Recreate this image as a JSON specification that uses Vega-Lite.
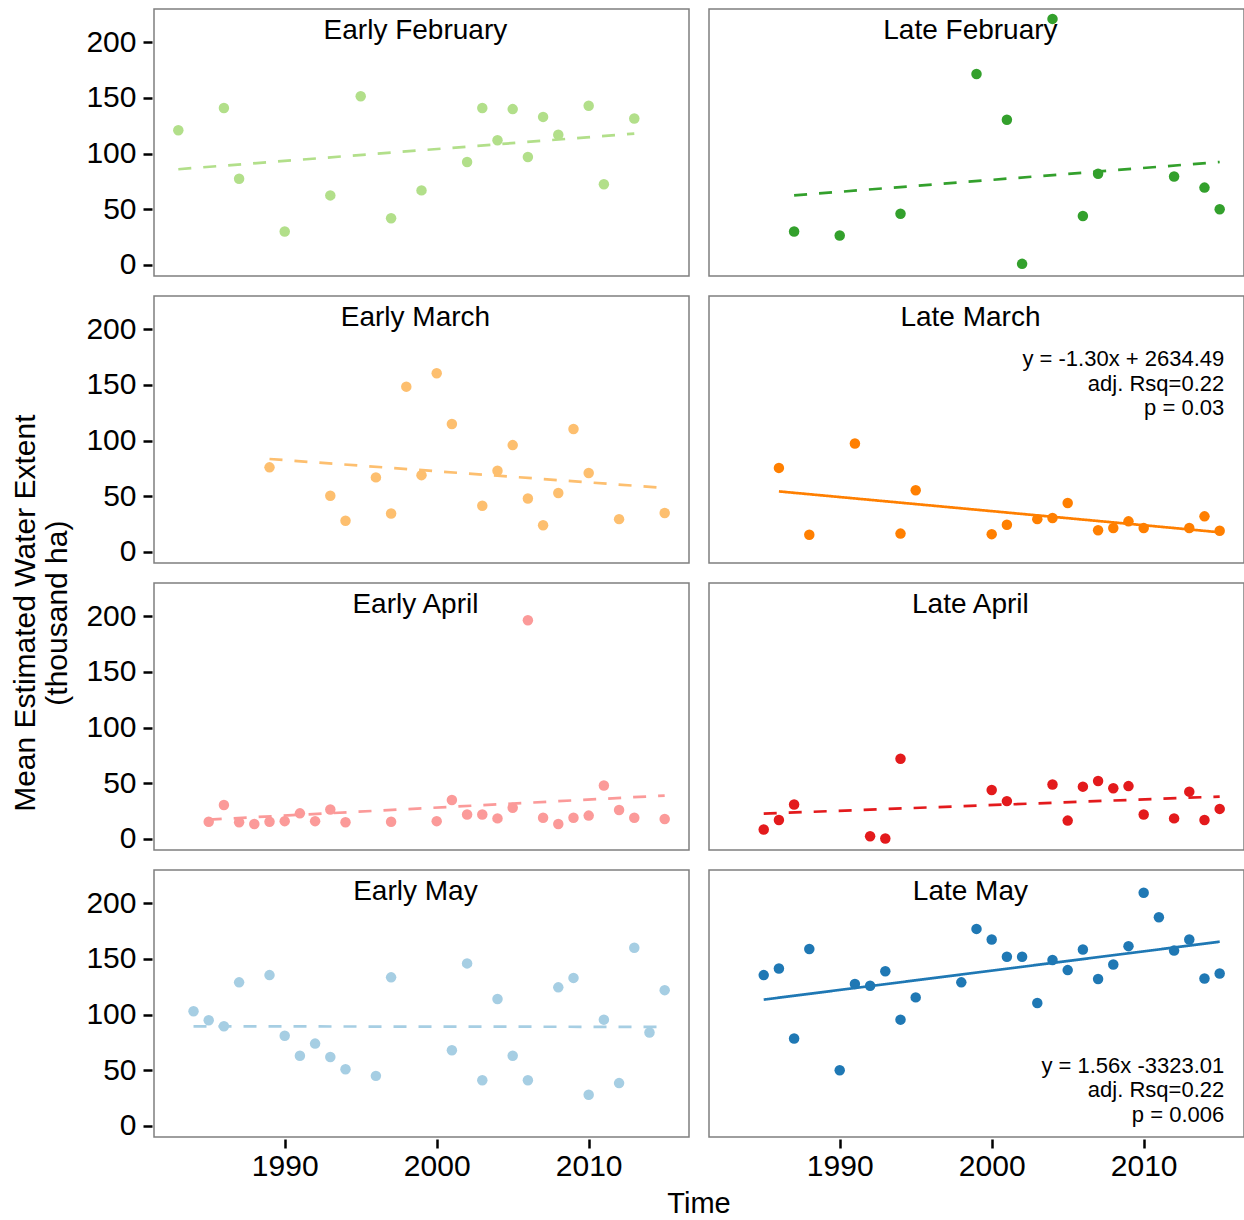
{
 "$schema": "https://vega.github.io/schema/vega-lite/v6.json",
 "padding": {"left": 10, "top": 7, "right": 0, "bottom": 2},
 "title": {"text": "Mean Estimated Water Extent", "subtitle": "(thousand ha)", "orient": "left", "anchor": "middle", "fontSize": 30, "subtitleFontSize": 30, "font": "Liberation Sans", "subtitleFont": "Liberation Sans", "fontWeight": "normal", "color": "black", "subtitleColor": "black", "offset": 13, "subtitlePadding": 2},
 "data": {"values": [
  {"panel":"Early February","kind":"pt","year":1983,"value":121},{"panel":"Early February","kind":"pt","year":1986,"value":141},{"panel":"Early February","kind":"pt","year":1987,"value":77.5},{"panel":"Early February","kind":"pt","year":1990,"value":30},{"panel":"Early February","kind":"pt","year":1993,"value":62.5},{"panel":"Early February","kind":"pt","year":1995,"value":151.5},{"panel":"Early February","kind":"pt","year":1997,"value":42},{"panel":"Early February","kind":"pt","year":1999,"value":67},{"panel":"Early February","kind":"pt","year":2002,"value":92.5},{"panel":"Early February","kind":"pt","year":2003,"value":141},{"panel":"Early February","kind":"pt","year":2004,"value":112},{"panel":"Early February","kind":"pt","year":2005,"value":140},{"panel":"Early February","kind":"pt","year":2006,"value":97},{"panel":"Early February","kind":"pt","year":2007,"value":133},{"panel":"Early February","kind":"pt","year":2008,"value":117},{"panel":"Early February","kind":"pt","year":2010,"value":143},{"panel":"Early February","kind":"pt","year":2011,"value":72.5},{"panel":"Early February","kind":"pt","year":2013,"value":131.5},
  {"panel":"Early February","kind":"fit","sig":"ns","year":1983,"value":86},{"panel":"Early February","kind":"fit","sig":"ns","year":2013,"value":118},
  {"panel":"Late February","kind":"pt","year":1987,"value":30},{"panel":"Late February","kind":"pt","year":1990,"value":26.5},{"panel":"Late February","kind":"pt","year":1994,"value":46},{"panel":"Late February","kind":"pt","year":1999,"value":171.5},{"panel":"Late February","kind":"pt","year":2001,"value":130.5},{"panel":"Late February","kind":"pt","year":2002,"value":1},{"panel":"Late February","kind":"pt","year":2004,"value":221},{"panel":"Late February","kind":"pt","year":2006,"value":44},{"panel":"Late February","kind":"pt","year":2007,"value":82},{"panel":"Late February","kind":"pt","year":2012,"value":79.5},{"panel":"Late February","kind":"pt","year":2014,"value":69.5},{"panel":"Late February","kind":"pt","year":2015,"value":50},
  {"panel":"Late February","kind":"fit","sig":"ns","year":1987,"value":62.5},{"panel":"Late February","kind":"fit","sig":"ns","year":2015,"value":92.5},
  {"panel":"Early March","kind":"pt","year":1989,"value":76},{"panel":"Early March","kind":"pt","year":1993,"value":50.5},{"panel":"Early March","kind":"pt","year":1994,"value":28},{"panel":"Early March","kind":"pt","year":1996,"value":67},{"panel":"Early March","kind":"pt","year":1997,"value":34.5},{"panel":"Early March","kind":"pt","year":1998,"value":148.5},{"panel":"Early March","kind":"pt","year":1999,"value":69},{"panel":"Early March","kind":"pt","year":2000,"value":160.5},{"panel":"Early March","kind":"pt","year":2001,"value":115},{"panel":"Early March","kind":"pt","year":2003,"value":41.5},{"panel":"Early March","kind":"pt","year":2004,"value":73},{"panel":"Early March","kind":"pt","year":2005,"value":96},{"panel":"Early March","kind":"pt","year":2006,"value":48},{"panel":"Early March","kind":"pt","year":2007,"value":24},{"panel":"Early March","kind":"pt","year":2008,"value":53},{"panel":"Early March","kind":"pt","year":2009,"value":110.5},{"panel":"Early March","kind":"pt","year":2010,"value":71},{"panel":"Early March","kind":"pt","year":2012,"value":29.5},{"panel":"Early March","kind":"pt","year":2015,"value":35},
  {"panel":"Early March","kind":"fit","sig":"ns","year":1989,"value":83.5},{"panel":"Early March","kind":"fit","sig":"ns","year":2015,"value":57.5},
  {"panel":"Late March","kind":"pt","year":1986,"value":75.5},{"panel":"Late March","kind":"pt","year":1988,"value":15.5},{"panel":"Late March","kind":"pt","year":1991,"value":97.5},{"panel":"Late March","kind":"pt","year":1994,"value":16.5},{"panel":"Late March","kind":"pt","year":1995,"value":55.5},{"panel":"Late March","kind":"pt","year":2000,"value":16},{"panel":"Late March","kind":"pt","year":2001,"value":24.5},{"panel":"Late March","kind":"pt","year":2003,"value":29.5},{"panel":"Late March","kind":"pt","year":2004,"value":30.5},{"panel":"Late March","kind":"pt","year":2005,"value":44},{"panel":"Late March","kind":"pt","year":2007,"value":19.5},{"panel":"Late March","kind":"pt","year":2008,"value":21.5},{"panel":"Late March","kind":"pt","year":2009,"value":27.5},{"panel":"Late March","kind":"pt","year":2010,"value":21.5},{"panel":"Late March","kind":"pt","year":2013,"value":21.5},{"panel":"Late March","kind":"pt","year":2014,"value":32},{"panel":"Late March","kind":"pt","year":2015,"value":19},
  {"panel":"Late March","kind":"fit","sig":"sig","year":1986,"value":54.4},{"panel":"Late March","kind":"fit","sig":"sig","year":2015,"value":17.7},
  {"panel":"Late March","kind":"note","label":"y = -1.30x + 2634.49\nadj. Rsq=0.22\np = 0.03"},
  {"panel":"Early April","kind":"pt","year":1985,"value":15.5},{"panel":"Early April","kind":"pt","year":1986,"value":30.5},{"panel":"Early April","kind":"pt","year":1987,"value":15},{"panel":"Early April","kind":"pt","year":1988,"value":13.5},{"panel":"Early April","kind":"pt","year":1989,"value":15.5},{"panel":"Early April","kind":"pt","year":1990,"value":16},{"panel":"Early April","kind":"pt","year":1991,"value":23},{"panel":"Early April","kind":"pt","year":1992,"value":16},{"panel":"Early April","kind":"pt","year":1993,"value":26.5},{"panel":"Early April","kind":"pt","year":1994,"value":15},{"panel":"Early April","kind":"pt","year":1997,"value":15.5},{"panel":"Early April","kind":"pt","year":2000,"value":16},{"panel":"Early April","kind":"pt","year":2001,"value":35},{"panel":"Early April","kind":"pt","year":2002,"value":22},{"panel":"Early April","kind":"pt","year":2003,"value":22},{"panel":"Early April","kind":"pt","year":2004,"value":18.5},{"panel":"Early April","kind":"pt","year":2005,"value":28},{"panel":"Early April","kind":"pt","year":2006,"value":196.5},{"panel":"Early April","kind":"pt","year":2007,"value":19},{"panel":"Early April","kind":"pt","year":2008,"value":13.5},{"panel":"Early April","kind":"pt","year":2009,"value":19},{"panel":"Early April","kind":"pt","year":2010,"value":21},{"panel":"Early April","kind":"pt","year":2011,"value":48},{"panel":"Early April","kind":"pt","year":2012,"value":26},{"panel":"Early April","kind":"pt","year":2013,"value":19},{"panel":"Early April","kind":"pt","year":2015,"value":18},
  {"panel":"Early April","kind":"fit","sig":"ns","year":1985,"value":17.4},{"panel":"Early April","kind":"fit","sig":"ns","year":2015,"value":39},
  {"panel":"Late April","kind":"pt","year":1985,"value":8.5},{"panel":"Late April","kind":"pt","year":1986,"value":17},{"panel":"Late April","kind":"pt","year":1987,"value":31},{"panel":"Late April","kind":"pt","year":1992,"value":2.5},{"panel":"Late April","kind":"pt","year":1993,"value":0.5},{"panel":"Late April","kind":"pt","year":1994,"value":72},{"panel":"Late April","kind":"pt","year":2000,"value":44},{"panel":"Late April","kind":"pt","year":2001,"value":34},{"panel":"Late April","kind":"pt","year":2004,"value":49},{"panel":"Late April","kind":"pt","year":2005,"value":16.5},{"panel":"Late April","kind":"pt","year":2006,"value":47},{"panel":"Late April","kind":"pt","year":2007,"value":52},{"panel":"Late April","kind":"pt","year":2008,"value":45.5},{"panel":"Late April","kind":"pt","year":2009,"value":47.5},{"panel":"Late April","kind":"pt","year":2010,"value":22},{"panel":"Late April","kind":"pt","year":2012,"value":18.5},{"panel":"Late April","kind":"pt","year":2013,"value":42.5},{"panel":"Late April","kind":"pt","year":2014,"value":17},{"panel":"Late April","kind":"pt","year":2015,"value":27},
  {"panel":"Late April","kind":"fit","sig":"ns","year":1985,"value":22.8},{"panel":"Late April","kind":"fit","sig":"ns","year":2015,"value":38.1},
  {"panel":"Early May","kind":"pt","year":1984,"value":103},{"panel":"Early May","kind":"pt","year":1985,"value":95},{"panel":"Early May","kind":"pt","year":1986,"value":89.5},{"panel":"Early May","kind":"pt","year":1987,"value":129},{"panel":"Early May","kind":"pt","year":1989,"value":135.5},{"panel":"Early May","kind":"pt","year":1990,"value":81},{"panel":"Early May","kind":"pt","year":1991,"value":63},{"panel":"Early May","kind":"pt","year":1992,"value":74},{"panel":"Early May","kind":"pt","year":1993,"value":62},{"panel":"Early May","kind":"pt","year":1994,"value":51},{"panel":"Early May","kind":"pt","year":1996,"value":45},{"panel":"Early May","kind":"pt","year":1997,"value":133.5},{"panel":"Early May","kind":"pt","year":2001,"value":68},{"panel":"Early May","kind":"pt","year":2002,"value":146},{"panel":"Early May","kind":"pt","year":2003,"value":41},{"panel":"Early May","kind":"pt","year":2004,"value":114},{"panel":"Early May","kind":"pt","year":2005,"value":63},{"panel":"Early May","kind":"pt","year":2006,"value":41},{"panel":"Early May","kind":"pt","year":2008,"value":124.5},{"panel":"Early May","kind":"pt","year":2009,"value":133},{"panel":"Early May","kind":"pt","year":2010,"value":28},{"panel":"Early May","kind":"pt","year":2011,"value":95.5},{"panel":"Early May","kind":"pt","year":2012,"value":38.5},{"panel":"Early May","kind":"pt","year":2013,"value":160},{"panel":"Early May","kind":"pt","year":2014,"value":84},{"panel":"Early May","kind":"pt","year":2015,"value":122},
  {"panel":"Early May","kind":"fit","sig":"ns","year":1984,"value":89.5},{"panel":"Early May","kind":"fit","sig":"ns","year":2015,"value":89},
  {"panel":"Late May","kind":"pt","year":1985,"value":135.5},{"panel":"Late May","kind":"pt","year":1986,"value":141.5},{"panel":"Late May","kind":"pt","year":1987,"value":78.5},{"panel":"Late May","kind":"pt","year":1988,"value":159},{"panel":"Late May","kind":"pt","year":1990,"value":50},{"panel":"Late May","kind":"pt","year":1991,"value":127.5},{"panel":"Late May","kind":"pt","year":1992,"value":126},{"panel":"Late May","kind":"pt","year":1993,"value":139},{"panel":"Late May","kind":"pt","year":1994,"value":95.5},{"panel":"Late May","kind":"pt","year":1995,"value":115.5},{"panel":"Late May","kind":"pt","year":1998,"value":129},{"panel":"Late May","kind":"pt","year":1999,"value":177},{"panel":"Late May","kind":"pt","year":2000,"value":167.5},{"panel":"Late May","kind":"pt","year":2001,"value":152},{"panel":"Late May","kind":"pt","year":2002,"value":152},{"panel":"Late May","kind":"pt","year":2003,"value":110.5},{"panel":"Late May","kind":"pt","year":2004,"value":149},{"panel":"Late May","kind":"pt","year":2005,"value":140},{"panel":"Late May","kind":"pt","year":2006,"value":158.5},{"panel":"Late May","kind":"pt","year":2007,"value":132},{"panel":"Late May","kind":"pt","year":2008,"value":145},{"panel":"Late May","kind":"pt","year":2009,"value":161.5},{"panel":"Late May","kind":"pt","year":2010,"value":209.5},{"panel":"Late May","kind":"pt","year":2011,"value":187.5},{"panel":"Late May","kind":"pt","year":2012,"value":157.5},{"panel":"Late May","kind":"pt","year":2013,"value":167.5},{"panel":"Late May","kind":"pt","year":2014,"value":132.5},{"panel":"Late May","kind":"pt","year":2015,"value":137},
  {"panel":"Late May","kind":"fit","sig":"sig","year":1985,"value":113.5},{"panel":"Late May","kind":"fit","sig":"sig","year":2015,"value":165.5},
  {"panel":"Late May","kind":"note","label":"y = 1.56x -3323.01\nadj. Rsq=0.22\np = 0.006"}
 ]},
 "facet": {"field": "panel", "type": "nominal",
   "sort": ["Early February","Late February","Early March","Late March","Early April","Late April","Early May","Late May"],
   "title": "Time",
   "header": {"labels": false, "labelExpr": "''", "labelFontSize": 1, "labelPadding": 0, "titleOrient": "bottom", "titleFontSize": 29, "titleFont": "Liberation Sans", "titleColor": "black", "titleFontWeight": "normal", "titlePadding": 9}},
 "columns": 2,
 "spacing": {"row": 17, "column": 18},
 "spec": {
  "width": 535, "height": 267,
  "layer": [
   {"transform": [{"filter": "datum.kind === 'pt'"}],
    "mark": {"type": "circle", "size": 110, "opacity": 1},
    "encoding": {
     "x": {"field": "year", "type": "quantitative", "scale": {"domain": [1981.4, 2016.6], "nice": false, "zero": false}, "axis": {"values": [1990, 2000, 2010], "format": "d", "title": null, "labelPadding": 3}},
     "y": {"field": "value", "type": "quantitative", "scale": {"domain": [-9.9, 229.9], "nice": false}, "axis": {"values": [0, 50, 100, 150, 200], "title": null}},
     "color": {"field": "panel", "type": "nominal", "scale": {"domain": ["Early February","Late February","Early March","Late March","Early April","Late April","Early May","Late May"], "range": ["#b2df8a","#33a02c","#fdbf6f","#ff7f00","#fb9a99","#e31a1c","#a6cee3","#1f78b4"]}, "legend": null}
    }},
   {"transform": [{"filter": "datum.kind === 'fit'"}],
    "mark": {"type": "line", "strokeWidth": 2.7},
    "encoding": {
     "x": {"field": "year", "type": "quantitative"},
     "y": {"field": "value", "type": "quantitative"},
     "color": {"field": "panel", "type": "nominal"},
     "strokeDash": {"field": "sig", "type": "nominal", "scale": {"domain": ["ns", "sig"], "range": [[13, 12], [1, 0]]}, "legend": null}
    }},
   {"transform": [{"filter": "datum.kind === 'pt'"}, {"aggregate": [{"op": "count", "as": "n"}], "groupby": ["panel"]}],
    "mark": {"type": "text", "fontSize": 28, "font": "Liberation Sans", "align": "center", "baseline": "alphabetic", "color": "black"},
    "encoding": {"x": {"datum": 1998.6}, "y": {"datum": 203}, "text": {"field": "panel"}}},
   {"transform": [{"filter": "datum.kind === 'note' && datum.panel === 'Late March'"}],
    "mark": {"type": "text", "fontSize": 22, "font": "Liberation Sans", "align": "right", "baseline": "alphabetic", "lineBreak": "\n", "lineHeight": 24.5, "color": "black"},
    "encoding": {"x": {"datum": 2015.3}, "y": {"datum": 167}, "text": {"field": "label"}}},
   {"transform": [{"filter": "datum.kind === 'note' && datum.panel === 'Late May'"}],
    "mark": {"type": "text", "fontSize": 22, "font": "Liberation Sans", "align": "right", "baseline": "alphabetic", "lineBreak": "\n", "lineHeight": 24.5, "color": "black"},
    "encoding": {"x": {"datum": 2015.3}, "y": {"datum": 47.6}, "text": {"field": "label"}}}
  ]
 },
 "config": {
  "font": "Liberation Sans",
  "view": {"stroke": "#7f7f7f", "strokeWidth": 1.5},
  "headerFacet": {"labels": false},
  "axis": {"grid": false, "domain": false, "tickColor": "black", "tickWidth": 2.5, "tickSize": 9, "offset": 1, "labelFontSize": 30, "labelFont": "Liberation Sans", "labelColor": "black", "labelPadding": 7}
 }
}
